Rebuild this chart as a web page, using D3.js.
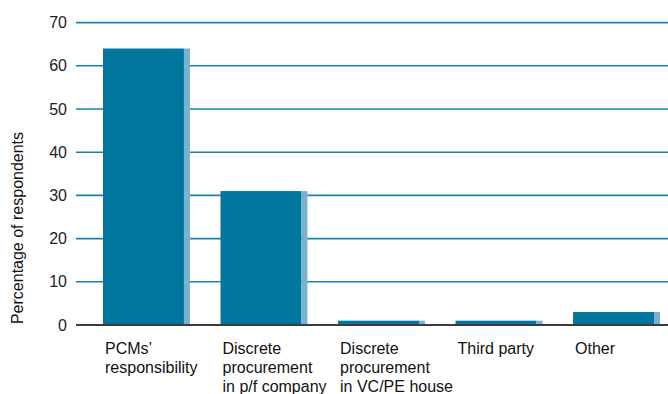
<!DOCTYPE html>
<html>
<head>
<meta charset="utf-8">
<script src="https://cdn.jsdelivr.net/npm/d3@7/dist/d3.min.js"></script>
<style>
  html, body { margin: 0; padding: 0; background: #fff; }
  svg { display: block; font-family: "Liberation Sans", Arial, Helvetica, sans-serif; }
</style>
</head>
<body>
<svg id="chart" width="668" height="394"></svg>
<script>
// Who handles procurement — share of respondents (%)
const categories = [
  ["PCMs\u2019", "responsibility"],
  ["Discrete", "procurement", "in p/f company"],
  ["Discrete", "procurement", "in VC/PE house"],
  ["Third party"],
  ["Other"]
];
const values = [64, 31, 1, 1, 3];
const yTicks = [0, 10, 20, 30, 40, 50, 60, 70];
const yTitle = "Percentage of respondents";

const svg = d3.select("#chart");
const plot = { left: 76, right: 668, top: 22.6, bottom: 325 };

const x = d3.scaleBand()
  .domain(d3.range(categories.length))
  .range([103, 660])
  .paddingInner(0.26)
  .paddingOuter(0);

const y = d3.scaleLinear().domain([0, 70]).range([plot.bottom, plot.top]);

// gridlines
svg.append("g")
  .selectAll("line")
  .data(yTicks.filter(t => t > 0))
  .join("line")
  .attr("x1", plot.left)
  .attr("x2", plot.right)
  .attr("y1", d => y(d))
  .attr("y2", d => y(d))
  .attr("stroke", "#1683ad")
  .attr("stroke-width", 1.6);

// tick labels
svg.append("g")
  .selectAll("text")
  .data(yTicks)
  .join("text")
  .attr("x", 67)
  .attr("y", d => y(d))
  .attr("dy", "0.35em")
  .attr("text-anchor", "end")
  .attr("font-size", 16)
  .attr("fill", "#222")
  .text(d => d);

// bars: a front face plus a lighter side strip
const edge = 6;
const bars = svg.append("g")
  .selectAll("g")
  .data(values.map((v, i) => ({ v, i })))
  .join("g");

bars.append("rect")
  .attr("x", d => x(d.i))
  .attr("y", d => y(d.v))
  .attr("width", x.bandwidth() - edge)
  .attr("height", d => y(0) - y(d.v))
  .attr("fill", "#00769f");

bars.append("rect")
  .attr("x", d => x(d.i) + x.bandwidth() - edge)
  .attr("y", d => y(d.v))
  .attr("width", edge)
  .attr("height", d => y(0) - y(d.v))
  .attr("fill", "#7db0cc");

// baseline
svg.append("line")
  .attr("x1", plot.left)
  .attr("x2", plot.right)
  .attr("y1", y(0))
  .attr("y2", y(0))
  .attr("stroke", "#3c3c3c")
  .attr("stroke-width", 2);

// category labels
const lab = svg.append("g")
  .selectAll("text")
  .data(categories)
  .join("text")
  .attr("x", (d, i) => x(i) + 2)
  .attr("y", 354)
  .attr("font-size", 16)
  .attr("fill", "#111");

lab.selectAll("tspan")
  .data(d => d)
  .join("tspan")
  .attr("x", function () { return d3.select(this.parentNode).attr("x"); })
  .attr("dy", (d, i) => i === 0 ? 0 : 19)
  .text(d => d);

// axis title
svg.append("text")
  .attr("transform", "translate(23,228) rotate(-90)")
  .attr("text-anchor", "middle")
  .attr("font-size", 16)
  .attr("fill", "#111")
  .text(yTitle);
</script>
</body>
</html>
